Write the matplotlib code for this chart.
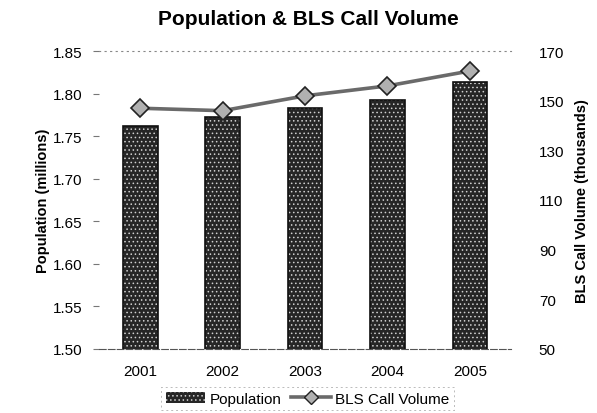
import matplotlib
matplotlib.use("Agg")
import matplotlib.pyplot as plt
import numpy as np

plt.rcParams['font.family'] = ["Liberation Sans", "DejaVu Sans"]

years = ["2001", "2002", "2003", "2004", "2005"]
population = [1.762, 1.773, 1.783, 1.793, 1.814]      # millions
bls_calls = [147, 146, 152, 156, 162]                  # thousands

fig = plt.figure(figsize=(5.97, 4.14), dpi=100)
ax = fig.add_axes([0.166, 0.155, 0.690, 0.719])
x = np.arange(len(years))

# stippled dark bars: dark fill + white dotted hatch, then black outline on top
plt.rcParams['hatch.linewidth'] = 0.6
ax.bar(x, population, width=0.42, bottom=0, color="#262626",
       edgecolor="#d0d0d0", hatch="....", linewidth=0, zorder=2)
ax.bar(x, population, width=0.42, bottom=0, fill=False,
       edgecolor="#111111", linewidth=1.2, zorder=3)

ax.set_ylim(1.50, 1.85)
ax.set_xlim(-0.5, 4.5)
ax.set_yticks(np.arange(1.50, 1.851, 0.05))
ax.set_yticklabels(["%.2f" % v for v in np.arange(1.50, 1.851, 0.05)], fontsize=11)
ax.set_xticks(x)
ax.set_xticklabels(years, fontsize=11)
ax.tick_params(axis="x", length=0, pad=11)
ax.tick_params(axis="y", length=4, width=0.8, color="#777777", pad=8)
ax.set_ylabel("Population (millions)", fontsize=10.5, fontweight="bold", labelpad=2)

for side in ["left", "right"]:
    ax.spines[side].set_visible(False)
ax.spines["top"].set_linestyle((0, (1, 4)))
ax.spines["top"].set_color("#888888")
ax.spines["top"].set_linewidth(0.8)
ax.spines["bottom"].set_linestyle((0, (6, 2)))
ax.spines["bottom"].set_color("#555555")
ax.spines["bottom"].set_linewidth(0.8)

ax2 = ax.twinx()
ax2.plot(x, bls_calls, color="#6a6a6a", linewidth=2.6, marker="D",
         markersize=9, markerfacecolor="#b0b0b0", markeredgecolor="#222222",
         markeredgewidth=1.2, zorder=4)
ax2.set_ylim(50, 170)
ax2.set_yticks(np.arange(50, 171, 20))
ax2.set_yticklabels([str(v) for v in range(50, 171, 20)], fontsize=11)
ax2.tick_params(axis="y", length=0, pad=20)
ax2.set_ylabel("BLS Call Volume (thousands)", fontsize=10.5, fontweight="bold", labelpad=8)
for side in ["left", "right", "top", "bottom"]:
    ax2.spines[side].set_visible(False)

fig.suptitle("Population & BLS Call Volume", x=0.516, y=0.975, fontsize=15,
             fontweight="bold")

from matplotlib.patches import Patch
from matplotlib.lines import Line2D
handles = [
    Patch(facecolor="#262626", edgecolor="#d0d0d0", hatch="....", linewidth=0),
    Line2D([0], [0], color="#6a6a6a", linewidth=2.6, marker="D", markersize=7,
           markerfacecolor="#b0b0b0", markeredgecolor="#222222"),
]
leg = fig.legend(handles, ["Population", "BLS Call Volume"], loc="center",
                 bbox_to_anchor=(0.515, 0.035), ncol=2, fontsize=11, frameon=True,
                 fancybox=False, handlelength=2.6, columnspacing=0.6,
                 handletextpad=0.3, borderpad=0.3)
leg.get_frame().set_edgecolor("#aaaaaa")
leg.get_frame().set_linestyle((0, (2, 3)))
leg.get_frame().set_linewidth(0.7)

fig.savefig("out.png", dpi=100)
